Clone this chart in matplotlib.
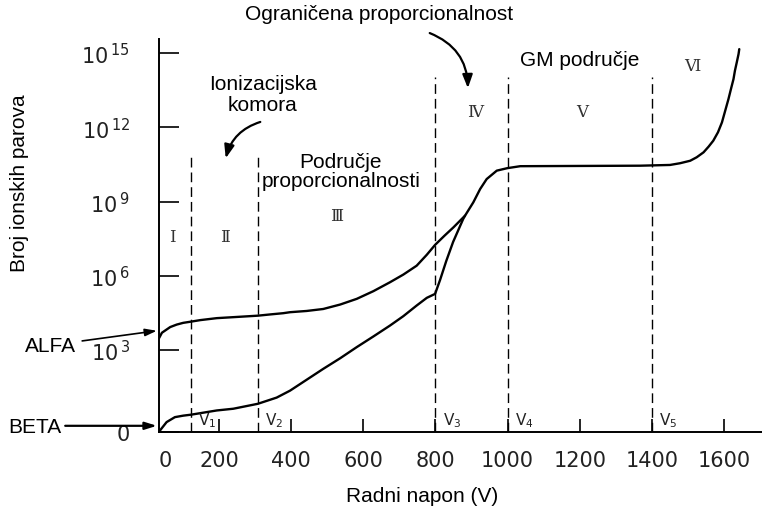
import matplotlib.pyplot as plt

# napon (V) i log10 broja ionskih parova, procitano sa slike
alfa_v = [34, 42, 51, 65, 83, 101, 123, 148, 194, 240, 308, 342, 378, 397,
          443, 489, 536, 582, 628, 674, 711, 748, 776, 799, 825, 850, 882,
          905, 924, 942, 970, 999, 1035, 1200, 1367, 1450, 1478, 1506, 1524,
          1543, 1557, 1570, 1583, 1594, 1603, 1612, 1619, 1626, 1630, 1635,
          1640, 1642]
alfa_log = [3.48, 3.70, 3.79, 3.93, 4.03, 4.10, 4.15, 4.21, 4.29, 4.33, 4.39,
            4.44, 4.49, 4.53, 4.58, 4.66, 4.84, 5.07, 5.38, 5.74, 6.05, 6.41,
            6.85, 7.25, 7.62, 7.96, 8.43, 8.97, 9.51, 9.91, 10.25, 10.35,
            10.43, 10.44, 10.45, 10.48, 10.55, 10.65, 10.79, 10.99, 11.22,
            11.46, 11.80, 12.20, 12.67, 13.14, 13.55, 13.95, 14.29, 14.62,
            14.96, 15.16]

beta_v = [34, 42, 55, 78, 101, 123, 194, 240, 308, 360, 397, 443, 489, 536,
          582, 628, 674, 711, 748, 776, 799, 813, 830, 849, 877, 882]
beta_log = [-0.30, -0.15, 0.09, 0.29, 0.35, 0.39, 0.56, 0.63, 0.83, 1.08,
            1.36, 1.80, 2.24, 2.67, 3.12, 3.55, 3.99, 4.37, 4.80, 5.11, 5.27,
            5.84, 6.60, 7.37, 8.30, 8.43]

granice_v = [123, 308, 800, 1000, 1400]
granice_vrh = [10.84, 10.84, 14.03, 14.03, 14.03]
granice_oznake = ['1', '2', '3', '4', '5']

podrucja = ['Ⅰ', 'Ⅱ', 'Ⅲ', 'Ⅳ', 'Ⅴ', 'Ⅵ']
podrucja_x = [70, 217, 527, 910, 1206, 1511]
podrucja_y = [7.57, 7.57, 8.42, 12.62, 12.62, 14.48]

x_ticks = [200, 400, 600, 800, 1000, 1200, 1400, 1600]
y_ticks = [3, 6, 9, 12, 15]

TXT = 'Liberation Sans'

fig = plt.figure(figsize=(7.62, 5.10), dpi=100)
ax = fig.add_axes([0.2087, 0.151, 0.7913, 0.7706])

ax.plot(alfa_v, alfa_log, color='black', lw=1.7, solid_capstyle='round',
        solid_joinstyle='round')
ax.plot(beta_v, beta_log, color='black', lw=1.7, solid_capstyle='round',
        solid_joinstyle='round')

for v, top, o in zip(granice_v, granice_vrh, granice_oznake):
    ax.plot([v, v], [-0.31, top], color='black', lw=1.0, dashes=(7, 3.6))
    ax.text(v + 20, -0.2, r'$\mathregular{V_%s}$' % o, fontsize=11,
            ha='left', va='bottom', color='#222222')

for t, x, y in zip(podrucja, podrucja_x, podrucja_y):
    ax.text(x, y, t, fontsize=12, family=['DejaVu Serif', 'DejaVu Sans'],
            ha='center', va='center', color='#333333')

ax.set_xlim(34, 1705)
ax.set_ylim(-0.31, 15.57)
ax.spines['top'].set_visible(False)
ax.spines['right'].set_visible(False)
ax.spines['left'].set_linewidth(1.4)
ax.spines['bottom'].set_linewidth(1.4)

ax.set_xticks(x_ticks, [str(t) for t in x_ticks])
ax.set_xticks([51], ['0'], minor=True)
ax.tick_params(axis='x', which='major', direction='in', length=9.4, width=1.2,
               pad=13, labelsize=15, labelcolor='#222222')
ax.tick_params(axis='x', which='minor', length=0, pad=13, labelsize=15,
               labelcolor='#222222')
ax.set_yticks([-0.31] + y_ticks,
              ['0'] + [r'$\mathregular{10^{\,%d}}$' % t for t in y_ticks])
ax.tick_params(axis='y', direction='in', length=14.4, width=1.2, pad=21,
               labelsize=15, labelcolor='#222222')

ax.set_xlabel('Radni napon (V)', family=TXT, fontsize=15)
ax.xaxis.set_label_coords(0.436, -0.137)
ax.set_ylabel('Broj ionskih parova', family=TXT, fontsize=15, ha='center',
              va='center')
ax.yaxis.set_label_coords(-0.232, 0.636)

ax.text(644, 16.6, 'Ograničena proporcionalnost', family=TXT, fontsize=15,
        ha='center', va='center', clip_on=False)
ax.annotate('', xy=(890, 13.47), xytext=(777, 15.85), annotation_clip=False,
            arrowprops=dict(arrowstyle='-|>,head_length=0.8,head_width=0.3',
                            color='black', lw=1.6,
                            connectionstyle='arc3,rad=-0.35'))

ax.text(322, 13.34, 'Ionizacijska\nkomora', family=TXT, fontsize=15,
        ha='center', va='center', linespacing=1.15)
ax.annotate('', xy=(217, 10.64), xytext=(322, 12.25),
            arrowprops=dict(arrowstyle='-|>,head_length=0.8,head_width=0.3',
                            color='black', lw=1.6,
                            connectionstyle='arc3,rad=0.3'))

ax.text(538, 10.24, 'Područje\nproporcionalnosti', family=TXT, fontsize=15,
        ha='center', va='center', linespacing=0.95)
ax.text(1201, 14.76, 'GM područje', family=TXT, fontsize=15, ha='center',
        va='center')

ax.text(-268, 3.17, 'ALFA', family=TXT, fontsize=15, ha='center',
        va='center', clip_on=False)
ax.annotate('', xy=(28, 3.78), xytext=(-179, 3.37), annotation_clip=False,
            arrowprops=dict(arrowstyle='-|>,head_length=0.7,head_width=0.22',
                            color='black', lw=1.2, shrinkA=0, shrinkB=0))
ax.text(-310, -0.10, 'BETA', family=TXT, fontsize=15, ha='center',
        va='center', clip_on=False)
ax.annotate('', xy=(28, -0.06), xytext=(-226, -0.06), annotation_clip=False,
            arrowprops=dict(arrowstyle='-|>,head_length=0.7,head_width=0.22',
                            color='black', lw=1.6, shrinkA=0, shrinkB=0))

fig.savefig('out.png', dpi=100)
